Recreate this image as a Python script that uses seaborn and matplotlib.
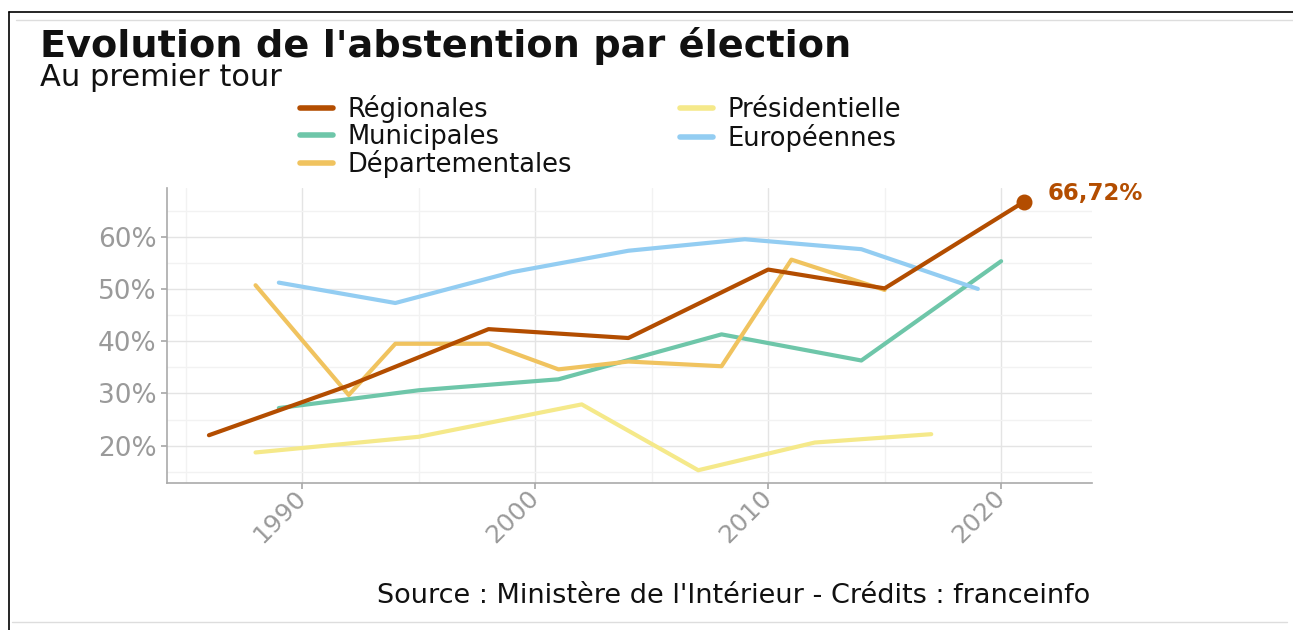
import pandas as pd
import seaborn as sns
import matplotlib.pyplot as plt
from matplotlib.lines import Line2D
from matplotlib.ticker import FuncFormatter, MultipleLocator

# abstention au premier tour (%)
reg_years = [1986, 1992, 1998, 2004, 2010, 2015, 2021]
reg_vals = [22.0, 31.5, 42.3, 40.6, 53.7, 50.1, 66.72]

mun_years = [1989, 1995, 2001, 2008, 2014, 2020]
mun_vals = [27.2, 30.6, 32.7, 41.3, 36.3, 55.3]

dep_years = [1988, 1992, 1994, 1998, 2001, 2004, 2008, 2011, 2015]
dep_vals = [50.7, 29.7, 39.5, 39.5, 34.6, 36.1, 35.2, 55.6, 49.8]

pres_years = [1988, 1995, 2002, 2007, 2012, 2017]
pres_vals = [18.7, 21.7, 27.9, 15.3, 20.6, 22.2]

eur_years = [1989, 1994, 1999, 2004, 2009, 2014, 2019]
eur_vals = [51.2, 47.3, 53.2, 57.3, 59.5, 57.6, 50.0]

elections = ["Régionales", "Municipales", "Départementales", "Présidentielle", "Européennes"]
colors = ["#b34d00", "#6ec6a9", "#f0c35f", "#f5e98a", "#93cdf2"]

frames = []
for name, yrs, vals in zip(elections,
                           [reg_years, mun_years, dep_years, pres_years, eur_years],
                           [reg_vals, mun_vals, dep_vals, pres_vals, eur_vals]):
    frames.append(pd.DataFrame({"annee": yrs, "abstention": vals, "election": name}))
df = pd.concat(frames, ignore_index=True)

sns.set_theme(style="whitegrid")
plt.rcParams['font.family'] = ['DejaVu Sans']

fig = plt.figure(figsize=(12.93, 6.3), dpi=100)
ax = fig.add_axes([167/1293, 1-483.3/630, (1092-167)/1293, (483.3-188.3)/630])

sns.lineplot(data=df, x="annee", y="abstention", hue="election", hue_order=elections,
             palette=dict(zip(elections, colors)), linewidth=3, ax=ax, sort=True)
ax.lines[0].set_zorder(5)

# point final Régionales
last = df[df["election"] == "Régionales"].iloc[-1]
ax.scatter([last["annee"]], [last["abstention"]], s=110, color=colors[0], zorder=6)
ax.annotate(f"{last['abstention']:.2f}%".replace(".", ","),
            xy=(last["annee"], last["abstention"]), xytext=(17, 6),
            textcoords="offset points", color=colors[0], fontsize=16.5,
            fontweight="bold", va="center", ha="left")

ax.set_xlim(1984.2, 2023.9)
ax.set_ylim(12.8, 69.25)
ax.xaxis.set_major_locator(MultipleLocator(10))
ax.xaxis.set_minor_locator(MultipleLocator(5))
ax.yaxis.set_major_locator(MultipleLocator(10))
ax.yaxis.set_minor_locator(MultipleLocator(5))
ax.yaxis.set_major_formatter(FuncFormatter(lambda v, p: f"{v:.0f}%"))
ax.grid(which="major", color="#e4e4e4", linewidth=1)
ax.grid(which="minor", color="#f2f2f2", linewidth=1)
ax.set_facecolor("white")
for s in ["top", "right"]:
    ax.spines[s].set_visible(False)
for s in ["left", "bottom"]:
    ax.spines[s].set_color("#aaaaaa")
    ax.spines[s].set_linewidth(1.2)
ax.tick_params(axis="both", which="major", length=4, color="#aaaaaa",
               labelcolor="#9a9a9a", labelsize=19, bottom=True, left=True)
ax.tick_params(axis="x", which="major", pad=4, labelsize=18)
ax.tick_params(axis="both", which="minor", length=0)
plt.setp(ax.get_xticklabels(), rotation=45, ha="right", va="center", rotation_mode="anchor")
ax.set_xlabel("")
ax.set_ylabel("")
ax.get_legend().remove()

handles = [Line2D([0], [0], color=c, linewidth=4) for c in colors]
fig.legend(handles, elections, loc="upper left", bbox_to_anchor=(300/1293, 1-95/630),
           ncol=2, frameon=False, fontsize=18.5, borderpad=0, handlelength=1.3,
           handletextpad=0.55, columnspacing=4.2, labelspacing=0.02, borderaxespad=0,
           labelcolor="#111111")

fig.text(40/1293, 1-46/630, "Evolution de l'abstention par élection", fontsize=27.5,
         fontweight="bold", va="center", ha="left", color="#111111")
fig.text(40/1293, 1-78/630, "Au premier tour", fontsize=22, va="center", ha="left",
         color="#111111")
fig.text(1090/1293, 1-596/630, "Source : Ministère de l'Intérieur - Crédits : franceinfo",
         fontsize=19.5, va="center", ha="right", color="#111111")

# cadre de la capture
fig.add_artist(Line2D([9/1293, 1], [1-12/630, 1-12/630], color="black", linewidth=1.2))
fig.add_artist(Line2D([9/1293, 9/1293], [0, 1-12/630], color="black", linewidth=1.2))
fig.add_artist(Line2D([16/1293, 1], [1-20/630, 1-20/630], color="#dddddd", linewidth=1))
fig.add_artist(Line2D([12/1293, 1287/1293], [1-622/630, 1-622/630], color="#dddddd", linewidth=1))

fig.savefig("out.png", dpi=100)
